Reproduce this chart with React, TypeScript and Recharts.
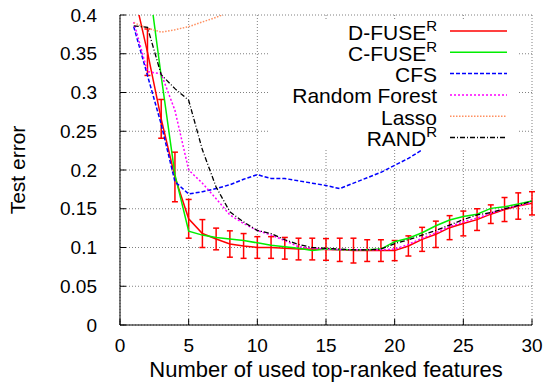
import React from 'react'
import { LineChart, Line, XAxis, YAxis, CartesianGrid, Legend, ErrorBar } from 'recharts'

const features = [1, 2, 3, 4, 5, 6, 7, 8, 9, 10, 11, 12, 13, 14, 15, 16, 17, 18, 19, 20, 21, 22, 23, 24, 25, 26, 27, 28, 29, 30]

// D-FUSE^R mean test error and its spread (the x=1 bar lies above the plot, so it is not drawn)
const dfuse = [0.43, 0.352, 0.266, 0.191, 0.137, 0.118, 0.111, 0.1045, 0.102, 0.1, 0.1, 0.099, 0.098, 0.098, 0.0975, 0.097, 0.096, 0.096, 0.096, 0.096, 0.102, 0.1105, 0.117, 0.1256, 0.131, 0.136, 0.143, 0.149, 0.1535, 0.157]
const dfuseErr = [null, 0.03, 0.025, 0.032, 0.025, 0.018, 0.014, 0.017, 0.016, 0.014, 0.014, 0.014, 0.014, 0.014, 0.014, 0.015, 0.016, 0.014, 0.014, 0.013, 0.013, 0.0155, 0.017, 0.0155, 0.016, 0.014, 0.012, 0.0155, 0.017, 0.015]
const cfuse = [0.55, 0.455, 0.321, 0.194, 0.121, 0.116, 0.113, 0.111, 0.109, 0.106, 0.103, 0.101, 0.099, 0.096, 0.098, 0.097, 0.097, 0.097, 0.098, 0.1075, 0.112, 0.119, 0.128, 0.1355, 0.14, 0.143, 0.1505, 0.1526, 0.156, 0.16]
const cfs = [0.385, 0.322, 0.259, 0.185, 0.169, 0.172, 0.176, 0.181, 0.188, 0.194, 0.189, 0.189, 0.186, 0.183, 0.18, 0.176, 0.183, 0.19, 0.197, 0.206, 0.215, 0.226]
const randomForest = [0.391, 0.327, 0.324, 0.277, 0.2, 0.183, 0.163, 0.142, 0.131, 0.122, 0.116, 0.109, 0.101, 0.099, 0.098, 0.097, 0.097, 0.097, 0.097, 0.098, 0.104, 0.112, 0.119, 0.127, 0.133, 0.138, 0.144, 0.15, 0.154, 0.158]
const lasso = [0.39, 0.383, 0.378, 0.381, 0.385, 0.391, 0.397, 0.404, 0.41, 0.416]
const rand = [0.386, 0.384, 0.323, 0.305, 0.29, 0.226, 0.178, 0.146, 0.133, 0.122, 0.118, 0.11, 0.104, 0.1, 0.099, 0.098, 0.097, 0.097, 0.098, 0.105, 0.11, 0.116, 0.122, 0.129, 0.136, 0.142, 0.145, 0.15, 0.1545, 0.16]

const xTicks = [0, 5, 10, 15, 20, 25, 30]
const yTicks = [0, 0.05, 0.1, 0.15, 0.2, 0.25, 0.3, 0.35, 0.4]
const yTickLabels = ['0', '0.05', '0.1', '0.15', '0.2', '0.25', '0.3', '0.35', '0.4']

const data = features.map((x, i) => ({
  x,
  dfuse: dfuse[i],
  dfuseErr: dfuseErr[i],
  cfuse: cfuse[i],
  cfs: cfs[i],
  rf: randomForest[i],
  lasso: lasso[i],
  rand: rand[i],
}))

const series = [
  { key: 'dfuse', name: 'D-FUSE', sup: 'R', color: '#ff0000', dash: undefined, width: 1.5 },
  { key: 'cfuse', name: 'C-FUSE', sup: 'R', color: '#00ee00', dash: undefined, width: 1.5 },
  { key: 'cfs', name: 'CFS', sup: '', color: '#0000ff', dash: '4 2', width: 1.5 },
  { key: 'rf', name: 'Random Forest', sup: '', color: '#ff00ff', dash: '2 2', width: 1.5 },
  { key: 'lasso', name: 'Lasso', sup: '', color: '#ff9060', dash: '1.5 1.5', width: 1.5 },
  { key: 'rand', name: 'RAND', sup: 'R', color: '#000000', dash: '5 2 1 2', width: 1.3 },
]

const font = '"Liberation Sans", Arial, sans-serif'

// gnuplot-style key: opaque box, right-aligned names, sample line on the right
function KeyBox() {
  return (
    <svg width={249} height={129} style={{ display: 'block', overflow: 'visible' }}>
      <rect x={0} y={0} width={249} height={129} fill="#fff" />
      {series.map((s, i) => {
        const y = 10 + i * 21.3
        return (
          <g key={s.key}>
            <text x={167} y={y + 8.5} textAnchor="end" fontSize={21} fontFamily={font} fill="#000">
              {s.name}
              {s.sup && <tspan fontSize={15} dy={-9}>{s.sup}</tspan>}
            </text>
            <line x1={180} x2={237} y1={y} y2={y} stroke={s.color} strokeWidth={s.width} strokeDasharray={s.dash} />
          </g>
        )
      })}
    </svg>
  )
}

function YTitle({ viewBox }: any) {
  const cy = viewBox.y + viewBox.height / 2
  const cx = viewBox.x + 25
  return (
    <text x={cx} y={cy} transform={`rotate(-90 ${cx} ${cy})`} textAnchor="middle" fontSize={21} fontFamily={font} fill="#000">
      Test error
    </text>
  )
}

export default function App() {
  return (
    <div style={{ position: 'absolute', left: 0, top: 0, fontFamily: font }}>
      <LineChart width={548} height={388} data={data} margin={{ top: 15, right: 16, bottom: 0, left: 0 }}>
        <CartesianGrid stroke="#808080" strokeDasharray="1 2" />
        <XAxis
          dataKey="x"
          type="number"
          domain={[0, 30]}
          ticks={xTicks}
          height={63}
          stroke="#000"
          tickSize={-6}
          tickMargin={20}
          tick={{ fill: '#000', stroke: 'none', fontSize: 19, fontFamily: font }}
          allowDataOverflow
          label={{ value: 'Number of used top-ranked features', position: 'insideBottom', offset: 11, fill: '#000', fontSize: 22, fontFamily: font }}
        />
        <XAxis xAxisId="top" orientation="top" type="number" domain={[0, 30]} ticks={xTicks} height={0} stroke="#000" tickSize={-6} tick={false} allowDataOverflow />
        <YAxis
          type="number"
          domain={[0, 0.4]}
          ticks={yTicks}
          width={120}
          stroke="#000"
          tickSize={-6}
          tickMargin={29}
          tickFormatter={(v: number, i: number) => yTickLabels[i]}
          tick={{ fill: '#000', stroke: 'none', fontSize: 19, fontFamily: font }}
          allowDataOverflow
          label={{ content: YTitle }}
        />
        <YAxis yAxisId="right" orientation="right" type="number" domain={[0, 0.4]} ticks={yTicks} width={0} stroke="#000" tickSize={-6} tick={false} allowDataOverflow />
        {series.map((s) => (
          <Line
            key={s.key}
            dataKey={s.key}
            type="linear"
            stroke={s.color}
            strokeWidth={s.width}
            strokeDasharray={s.dash}
            dot={false}
            activeDot={false}
            isAnimationActive={false}
          >
            {s.key === 'dfuse' && (
              <ErrorBar dataKey="dfuseErr" direction="y" width={3} stroke="#ff0000" strokeWidth={1.5} isAnimationActive={false} />
            )}
          </Line>
        ))}
        <Legend
          layout="vertical"
          align="center"
          verticalAlign="middle"
          width={249}
          height={129}
          wrapperStyle={{ left: 270, top: 21, width: 249, height: 129 }}
          content={() => <KeyBox />}
        />
      </LineChart>
    </div>
  )
}
